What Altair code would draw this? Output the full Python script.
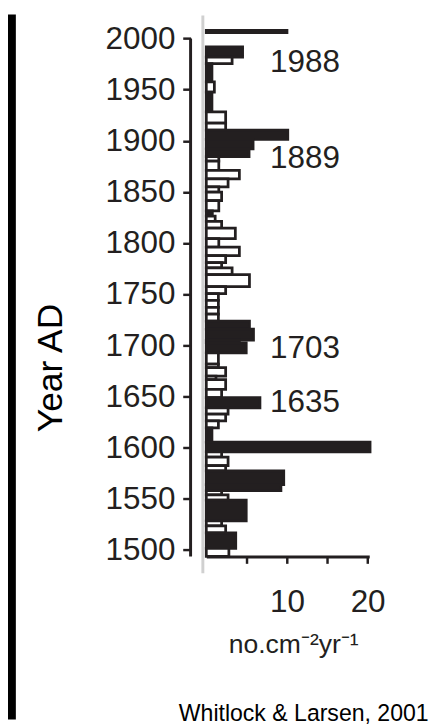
import altair as alt
import pandas as pd

# ---- data ----
bin_top = [2008.1, 1991.9, 1981.8, 1975.4, 1957.6, 1947.5, 1928.3, 1917.2, 1910.5, 1901.4,
           1892.0, 1884.5, 1880.2, 1871.1, 1862.7, 1854.9, 1849.9, 1841.5, 1831.4, 1826.3,
           1821.3, 1814.5, 1804.4, 1796.0, 1787.6, 1780.9, 1775.8, 1769.1, 1757.3, 1750.6,
           1743.9, 1737.1, 1730.4, 1723.6, 1715.9, 1705.1, 1702.5, 1692.7, 1681.6, 1678.2,
           1669.8, 1666.4, 1657.0, 1648.9, 1638.8, 1632.8, 1626.0, 1619.3, 1605.2, 1595.7,
           1590.7, 1582.3, 1577.2, 1563.8, 1558.0, 1553.7, 1548.6, 1528.4, 1523.4, 1516.6,
           1501.5]
bin_bottom = [2005.7, 1981.8, 1975.4, 1957.6, 1947.5, 1928.3, 1917.2, 1910.5, 1901.4, 1892.0,
              1884.5, 1880.2, 1871.1, 1862.7, 1854.9, 1849.9, 1841.5, 1831.4, 1826.3, 1821.3,
              1814.5, 1804.4, 1796.0, 1787.6, 1780.9, 1775.8, 1769.1, 1757.3, 1750.6, 1743.9,
              1737.1, 1730.4, 1723.6, 1715.9, 1705.1, 1702.5, 1692.7, 1681.6, 1678.2, 1669.8,
              1666.4, 1657.0, 1648.9, 1638.8, 1632.8, 1626.0, 1619.3, 1605.2, 1595.7, 1590.7,
              1582.3, 1577.2, 1563.8, 1558.0, 1553.7, 1548.6, 1528.4, 1523.4, 1516.6, 1501.5,
              1493.5]
accumulation = [10.0, 4.5, 3.2, 0.7, 1.0, 0.7, 2.4, 2.4, 10.1, 5.8,
                5.3, 1.55, 1.55, 4.1, 2.7, 1.55, 1.9, 1.55, 0.75, 1.1,
                1.9, 3.6, 1.55, 4.1, 2.4, 1.9, 3.2, 5.35, 2.4, 1.5,
                1.5, 1.5, 1.5, 5.35, 5.85, 4.1, 4.95, 1.5, 1.5, 2.4,
                1.2, 2.4, 1.9, 6.65, 2.7, 2.4, 1.5, 0.7, 20.3, 1.9,
                2.7, 2.4, 9.6, 9.25, 1.9, 2.7, 4.95, 1.9, 2.4, 3.65,
                2.8]
kind = ["peak", "peak", "background", "peak", "background", "peak", "background", "background", "peak", "peak",
        "peak", "background", "background", "background", "background", "background", "background", "background", "peak", "background",
        "background", "background", "background", "background", "background", "background", "background", "background", "background", "background",
        "background", "background", "background", "peak", "peak", "peak", "peak", "background", "background", "background",
        "background", "background", "background", "peak", "background", "background", "background", "peak", "peak", "background",
        "background", "background", "peak", "peak", "background", "background", "peak", "background", "background", "peak",
        "background"]

year_ticks = [1500, 1550, 1600, 1650, 1700, 1750, 1800, 1850, 1900, 1950, 2000]
x_ticks = [5, 10, 15, 20]

fire_labels = ["1988", "1889", "1703", "1635"]
fire_label_year = [1977.2, 1882.8, 1697.5, 1643.9]
fire_label_x = 7.9

y_title = "Year AD"
x_title = "no.cm\u207b\u00b2yr\u207b\u00b9"
credit = "Whitlock & Larsen, 2001"

INK = "#231f20"
NUM_FONT = "Liberation Sans, Arial, sans-serif"

bars_df = pd.DataFrame({
    "top": bin_top,
    "bottom": bin_bottom,
    "value": accumulation,
    "kind": kind,
})
bars_df["base"] = 0.0

labels_df = pd.DataFrame({"text": fire_labels, "year": fire_label_year})
labels_df["xpos"] = fire_label_x

W, H = 166, 538

xscale = alt.Scale(domain=[0, 20.2], nice=False, zero=False, clamp=False)
yscale = alt.Scale(domain=[1493.5, 2010], nice=False, zero=False)

bars = alt.Chart(bars_df).mark_rect(stroke=INK, strokeWidth=2.8, clip=False).encode(
    x=alt.X("base:Q", scale=xscale,
            axis=alt.Axis(values=x_ticks, title=None, grid=False,
                          labelExpr="datum.value % 10 == 0 ? datum.label : ''",
                          domainColor=INK, domainWidth=3, tickColor=INK, tickWidth=2.5,
                          tickSize=7, labelFont=NUM_FONT, labelFontSize=32,
                          labelColor=INK, labelPadding=24)),
    x2="value:Q",
    y=alt.Y("top:Q", scale=yscale,
            axis=alt.Axis(values=year_ticks, title=None, grid=False, domain=False,
                          offset=16, tickColor=INK, tickWidth=2.5, tickSize=8,
                          labelFont=NUM_FONT, labelFontSize=32, labelColor=INK,
                          labelPadding=8, format="d")),
    y2="bottom:Q",
    fill=alt.Fill("kind:N", scale=alt.Scale(domain=["peak", "background"], range=[INK, "white"]),
                  legend=None),
)

yaxis_line = alt.Chart(pd.DataFrame({"a": [2000], "b": [1493.5]})).mark_rule(
    color=INK, strokeWidth=3).encode(
    y=alt.Y("a:Q", scale=yscale), y2="b:Q", x=alt.value(-16))

gray_line = alt.Chart(pd.DataFrame({"a": [0]})).mark_rule(
    color="#d0d0d0", strokeWidth=3).encode(
    x=alt.value(-3.5), y=alt.value(-13), y2=alt.value(555))

left_strip = alt.Chart(pd.DataFrame({"a": [0]})).mark_rect(color="black").encode(
    x=alt.value(-202), x2=alt.value(-194), y=alt.value(-14), y2=alt.value(H + 166))

labels = alt.Chart(labels_df).mark_text(
    align="left", baseline="middle", font=NUM_FONT, fontSize=32, color=INK).encode(
    x=alt.X("xpos:Q", scale=xscale), y=alt.Y("year:Q", scale=yscale), text="text:N")

ytitle = alt.Chart(pd.DataFrame({"t": [y_title]})).mark_text(
    angle=270, align="center", baseline="alphabetic", font="Liberation Sans, Arial, sans-serif",
    fontSize=36, color="black").encode(
    x=alt.value(-146.5), y=alt.value(346), text="t:N")

xtitle = alt.Chart(pd.DataFrame({"t": [x_title]})).mark_text(
    align="center", baseline="alphabetic", font=NUM_FONT, fontSize=27, color=INK).encode(
    x=alt.value(89), y=alt.value(636), text="t:N")

credit_text = alt.Chart(pd.DataFrame({"t": [credit]})).mark_text(
    align="left", baseline="alphabetic", font="Liberation Sans, Arial, sans-serif",
    fontSize=23.5, color="black").encode(
    x=alt.value(-28), y=alt.value(706), text="t:N")

chart = alt.layer(left_strip, gray_line, bars, yaxis_line, labels, ytitle, xtitle, credit_text).properties(
    width=W, height=H,
    padding={"left": 202, "top": 14, "right": 68, "bottom": 166},
    autosize=alt.AutoSizeParams(type="none"),
    background="white",
).configure_view(stroke=None)

chart.save("out.html", embed_options={"renderer": "svg", "actions": False})
